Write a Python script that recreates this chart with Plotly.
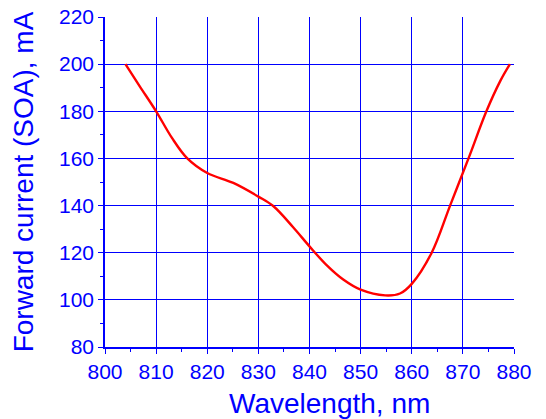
import plotly.graph_objects as go

wavelength_nm = [804.0, 806.8, 810.0, 813.1, 816.1, 820.0, 825.1, 830.0, 832.9, 836.8,
                 840.0, 843.4, 846.6, 850.0, 854.8, 857.7, 860.0, 863.9, 867.5,
                 871.1, 874.6, 877.3, 879.2]
current_mA = [200, 190.6, 180, 168.7, 160, 153.8, 149.6, 143.8, 139.8, 130.8,
              122.7, 114.6, 108.6, 104.3, 101.9, 102.7, 106.8, 120, 140,
              160, 180, 192.8, 200]

BLUE = "#0000ff"
FONT = "Liberation Sans, Arial, sans-serif"
fig = go.Figure()
fig.add_trace(go.Scatter(x=wavelength_nm, y=current_mA, mode="lines",
                         line=dict(color="#ff0000", width=2.4, shape="spline", smoothing=1.0),
                         showlegend=False, hoverinfo="skip"))

axis_common = dict(showgrid=True, gridcolor=BLUE, gridwidth=1,
                   showline=True, linecolor=BLUE, linewidth=1.5,
                   ticks="outside", ticklen=5, tickcolor=BLUE, tickwidth=1,
                   tickfont=dict(family=FONT, size=21, color=BLUE),
                   ticklabeloverflow="allow",
                   zeroline=False, mirror=False, automargin=False)

fig.update_xaxes(range=[800, 880], dtick=10, tick0=800,
                 minor=dict(dtick=5, ticks="outside", ticklen=3, tickcolor=BLUE,
                            showgrid=False),
                 **axis_common)
fig.update_yaxes(range=[80, 220], dtick=20, tick0=80,
                 minor=dict(dtick=10, ticks="outside", ticklen=3, tickcolor=BLUE,
                            showgrid=False),
                 title=dict(text="Forward current (SOA), mA",
                            font=dict(family=FONT, size=28, color=BLUE), standoff=17),
                 **axis_common)

fig.add_annotation(text="Wavelength, nm", xref="paper", yref="paper",
                   x=0.55, y=0, yshift=-56, xanchor="center", yanchor="middle",
                   showarrow=False, font=dict(family=FONT, size=28, color=BLUE))

fig.update_layout(width=546, height=419, margin=dict(l=105, r=32, t=17, b=72),
                  plot_bgcolor="white", paper_bgcolor="white")

fig.write_html("out.html", config={"displayModeBar": False},
               post_script="document.body.style.margin='0';document.body.style.overflow='hidden';")
